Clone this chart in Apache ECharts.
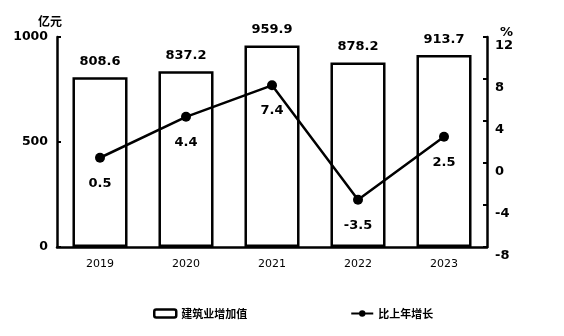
<!DOCTYPE html>
<html>
<head>
<meta charset="utf-8">
<script src="https://cdn.jsdelivr.net/npm/echarts@6/dist/echarts.min.js"></script>
<style>
html,body{margin:0;padding:0;background:#fff;}
#c{width:564px;height:336px;}
</style>
</head>
<body>
<div id="c"></div>
<script>
// Construction value added (100 million yuan) and year-on-year growth (%)
const years = ['2019', '2020', '2021', '2022', '2023'];
const valueAdded = [808.6, 837.2, 959.9, 878.2, 913.7];
const growth = [0.5, 4.4, 7.4, -3.5, 2.5];
const barName = '建筑业增加值';
const lineName = '比上年增长';

const FONT = '"DejaVu Sans", "Noto Sans CJK SC", sans-serif';
const CJK = '"Noto Sans CJK SC", sans-serif';

const chart = echarts.init(document.getElementById('c'), null, {renderer: 'canvas'});
chart.setOption({
  animation: false,
  backgroundColor: '#fff',
  grid: {left: 57, right: 77, top: 37, bottom: 89},
  legend: {
    left: 148, top: 303, itemGap: 103, itemWidth: 22, itemHeight: 8,
    textStyle: {fontFamily: CJK, fontWeight: 'bold', fontSize: 11, color: '#000'},
    data: [
      {name: barName, icon: 'roundRect', itemStyle: {color: '#fff', borderColor: '#000', borderWidth: 2.5}},
      {name: lineName}
    ]
  },
  xAxis: {
    type: 'category', data: years,
    axisLine: {lineStyle: {color: '#000', width: 2.5}},
    axisTick: {inside: true, length: 4, lineStyle: {color: '#000', width: 2}},
    axisLabel: {color: '#000', fontFamily: FONT, fontSize: 11, margin: 12}
  },
  yAxis: [
    {
      type: 'value', min: 0, max: 1000, interval: 500,
      name: '亿元', nameLocation: 'end', nameGap: 10,
      nameTextStyle: {fontFamily: CJK, fontWeight: 'bold', fontSize: 12, color: '#000', padding: [0, 14, 0, 0]},
      axisLine: {show: true, lineStyle: {color: '#000', width: 2.5}},
      axisTick: {show: true, inside: true, length: 4, lineStyle: {color: '#000', width: 2}},
      axisLabel: {color: '#000', fontFamily: FONT, fontWeight: 'bold', fontSize: 12.5, margin: 9,
        formatter: v => String(v)},
      splitLine: {show: false}
    },
    {
      type: 'value', min: -8, max: 12, interval: 4, position: 'right',
      name: '%', nameLocation: 'end', nameGap: -8,
      nameTextStyle: {fontFamily: FONT, fontWeight: 'bold', fontSize: 13, color: '#000', align: 'left', padding: [0, 0, 0, 13]},
      axisLine: {show: true, lineStyle: {color: '#000', width: 2.5}},
      axisTick: {show: true, inside: true, length: 4, lineStyle: {color: '#000', width: 2}},
      axisLabel: {color: '#000', fontFamily: FONT, fontWeight: 'bold', fontSize: 13, margin: 8, verticalAlign: 'top',
        padding: [2, 0, 0, 0], formatter: v => String(v)},
      splitLine: {show: false}
    }
  ],
  series: [
    {
      name: barName, type: 'bar', data: valueAdded, yAxisIndex: 0, barWidth: '64%',
      itemStyle: {color: '#fff', borderColor: '#000', borderWidth: 2.5},
      label: {show: true, position: 'top', distance: 9, color: '#000', fontFamily: FONT, fontWeight: 'bold', fontSize: 13,
        formatter: p => p.value.toFixed(1)}
    },
    {
      name: lineName, type: 'line', data: growth, yAxisIndex: 1,
      symbol: 'circle', symbolSize: 10,
      lineStyle: {color: '#000', width: 2.5}, itemStyle: {color: '#000'},
      label: {show: true, position: 'bottom', distance: 14, color: '#000', fontFamily: FONT, fontWeight: 'bold', fontSize: 13,
        formatter: p => p.value.toFixed(1)}
    }
  ]
});
</script>
</body>
</html>
